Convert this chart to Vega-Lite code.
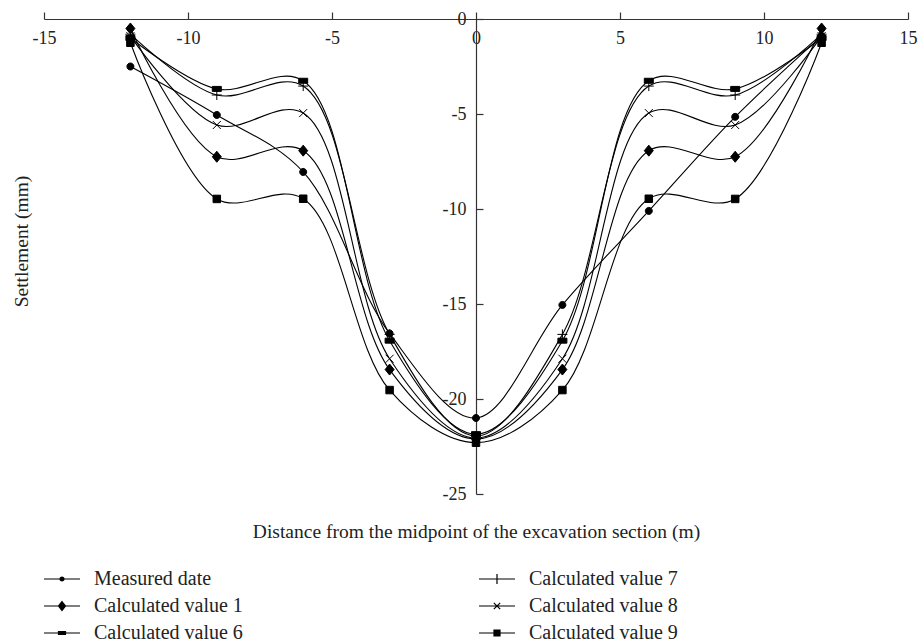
{
  "$schema": "https://vega.github.io/schema/vega-lite/v6.json",
  "width": 864,
  "height": 475,
  "autosize": {"type": "none"},
  "padding": {"left": 44, "top": 19, "right": 10, "bottom": 149},
  "background": "white",
  "config": {
    "view": {"stroke": null},
    "font": "Liberation Serif",
    "axis": {
      "grid": false,
      "domainColor": "#333333",
      "tickColor": "#333333",
      "domainWidth": 1.2,
      "tickWidth": 1.2,
      "labelColor": "#222222",
      "titleColor": "#222222",
      "labelFont": "Liberation Serif",
      "titleFont": "Liberation Serif",
      "labelFontSize": 18,
      "titleFontSize": 19.5,
      "titleFontWeight": "normal",
      "labelFlush": false,
      "labelOverlap": false
    }
  },
  "data": {
    "values": [
      {"series": "Measured date", "x": -12, "y": -2.5},
      {"series": "Measured date", "x": -9, "y": -5.05},
      {"series": "Measured date", "x": -6, "y": -8.05},
      {"series": "Measured date", "x": -3, "y": -16.55},
      {"series": "Measured date", "x": 0, "y": -21.0},
      {"series": "Measured date", "x": 3, "y": -15.05},
      {"series": "Measured date", "x": 6, "y": -10.1},
      {"series": "Measured date", "x": 9, "y": -5.15},
      {"series": "Measured date", "x": 12, "y": -0.9},
      {"series": "Calculated value 1", "x": -12, "y": -0.5},
      {"series": "Calculated value 1", "x": -9, "y": -7.25},
      {"series": "Calculated value 1", "x": -6, "y": -6.93},
      {"series": "Calculated value 1", "x": -3, "y": -18.45},
      {"series": "Calculated value 1", "x": 0, "y": -22.1},
      {"series": "Calculated value 1", "x": 3, "y": -18.45},
      {"series": "Calculated value 1", "x": 6, "y": -6.93},
      {"series": "Calculated value 1", "x": 9, "y": -7.25},
      {"series": "Calculated value 1", "x": 12, "y": -0.5},
      {"series": "Calculated value 6", "x": -12, "y": -1.0},
      {"series": "Calculated value 6", "x": -9, "y": -3.68},
      {"series": "Calculated value 6", "x": -6, "y": -3.25},
      {"series": "Calculated value 6", "x": -3, "y": -16.93},
      {"series": "Calculated value 6", "x": 0, "y": -21.85},
      {"series": "Calculated value 6", "x": 3, "y": -16.93},
      {"series": "Calculated value 6", "x": 6, "y": -3.25},
      {"series": "Calculated value 6", "x": 9, "y": -3.68},
      {"series": "Calculated value 6", "x": 12, "y": -1.0},
      {"series": "Calculated value 7", "x": -12, "y": -0.8},
      {"series": "Calculated value 7", "x": -9, "y": -4.0},
      {"series": "Calculated value 7", "x": -6, "y": -3.53},
      {"series": "Calculated value 7", "x": -3, "y": -16.6},
      {"series": "Calculated value 7", "x": 0, "y": -21.95},
      {"series": "Calculated value 7", "x": 3, "y": -16.6},
      {"series": "Calculated value 7", "x": 6, "y": -3.53},
      {"series": "Calculated value 7", "x": 9, "y": -4.0},
      {"series": "Calculated value 7", "x": 12, "y": -0.8},
      {"series": "Calculated value 8", "x": -12, "y": -0.9},
      {"series": "Calculated value 8", "x": -9, "y": -5.58},
      {"series": "Calculated value 8", "x": -6, "y": -4.95},
      {"series": "Calculated value 8", "x": -3, "y": -17.88},
      {"series": "Calculated value 8", "x": 0, "y": -22.05},
      {"series": "Calculated value 8", "x": 3, "y": -17.88},
      {"series": "Calculated value 8", "x": 6, "y": -4.95},
      {"series": "Calculated value 8", "x": 9, "y": -5.58},
      {"series": "Calculated value 8", "x": 12, "y": -0.9},
      {"series": "Calculated value 9", "x": -12, "y": -1.25},
      {"series": "Calculated value 9", "x": -9, "y": -9.47},
      {"series": "Calculated value 9", "x": -6, "y": -9.46},
      {"series": "Calculated value 9", "x": -3, "y": -19.53},
      {"series": "Calculated value 9", "x": 0, "y": -22.3},
      {"series": "Calculated value 9", "x": 3, "y": -19.53},
      {"series": "Calculated value 9", "x": 6, "y": -9.46},
      {"series": "Calculated value 9", "x": 9, "y": -9.47},
      {"series": "Calculated value 9", "x": 12, "y": -1.25}
    ]
  },
  "encoding": {
    "x": {
      "field": "x",
      "type": "quantitative",
      "scale": {"domain": [-15, 15], "nice": false, "zero": false},
      "axis": {
        "orient": "top",
        "values": [-15, -10, -5, 0, 5, 10, 15],
        "tickSize": 7,
        "labelBaseline": "top",
        "labelPadding": -17,
        "labelExpr": "'' + datum.value",
        "title": "Distance from the midpoint of the excavation section (m)",
        "titleX": 432,
        "titleY": 518,
        "titleAlign": "center",
        "titleBaseline": "alphabetic"
      }
    },
    "y": {
      "field": "y",
      "type": "quantitative",
      "scale": {"domain": [-25, 0], "nice": false, "zero": false},
      "axis": {
        "orient": "left",
        "offset": -432,
        "values": [0, -5, -10, -15, -20, -25],
        "tickSize": -7,
        "labelPadding": 17,
        "labelAlign": "right",
        "labelBaseline": "middle",
        "labelExpr": "'' + datum.value",
        "title": "Settlement (mm)",
        "titleX": -449,
        "titleY": 222,
        "titleAngle": -90,
        "titleAlign": "center",
        "titleBaseline": "alphabetic"
      }
    }
  },
  "resolve": {"scale": {"shape": "independent"}},
  "layer": [
    {
      "mark": {"type": "line", "interpolate": "catmull-rom", "color": "black", "strokeWidth": 1.1},
      "encoding": {"detail": {"field": "series", "type": "nominal"}}
    },
    {
      "mark": {"type": "point", "filled": true, "color": "black", "stroke": "black", "strokeWidth": 1, "size": 100, "opacity": 1},
      "encoding": {
        "shape": {
          "field": "series",
          "type": "nominal",
          "scale": {
            "domain": ["Measured date", "Calculated value 1", "Calculated value 6", "Calculated value 7", "Calculated value 8", "Calculated value 9"],
            "range": [
              "M0.7,0A0.7,0.7,0,1,1,-0.7,0A0.7,0.7,0,1,1,0.7,0Z",
              "M0,-1.1L0.9,0L0,1.1L-0.9,0Z",
              "M-0.9,-0.5H0.9V0.5H-0.9Z",
              "M-1,0H1M0,-1V1",
              "M-0.8,-0.8L0.8,0.8M-0.8,0.8L0.8,-0.8",
              "M-0.75,-0.75H0.75V0.75H-0.75Z"
            ]
          },
          "legend": null
        }
      }
    },
    {
      "mark": {"type": "point", "filled": false, "color": "black", "strokeWidth": 1.2, "size": 400, "opacity": 0},
      "encoding": {
        "shape": {
          "field": "series",
          "type": "nominal",
          "scale": {
            "domain": ["Measured date", "Calculated value 1", "Calculated value 6", "Calculated value 7", "Calculated value 8", "Calculated value 9"],
            "range": [
              "M-1.8,0H1.8M0.2,0A0.2,0.2,0,1,1,-0.2,0A0.2,0.2,0,1,1,0.2,0M0.1,0A0.1,0.1,0,1,1,-0.1,0A0.1,0.1,0,1,1,0.1,0",
              "M-1.8,0H1.8M0,-0.45L0.35,0L0,0.45L-0.35,0ZM0,-0.3L0.23,0L0,0.3L-0.23,0ZM0,-0.15L0.12,0L0,0.15L-0.12,0Z",
              "M-1.8,0H1.8M-0.35,-0.15H0.35V0.15H-0.35ZM-0.35,-0.08H0.35M-0.35,0.08H0.35",
              "M-1.8,0H1.8M0,-0.5V0.5",
              "M-1.8,0H1.8M-0.32,-0.32L0.32,0.32M-0.32,0.32L0.32,-0.32",
              "M-1.8,0H1.8M-0.3,-0.3H0.3V0.3H-0.3ZM-0.3,-0.2H0.3M-0.3,-0.1H0.3M-0.3,0.1H0.3M-0.3,0.2H0.3"
            ]
          },
          "legend": {
            "orient": "none",
            "legendX": 7,
            "legendY": 549,
            "columns": 2,
            "title": null,
            "padding": 0,
            "symbolSize": 400,
            "symbolOpacity": 1,
            "symbolStrokeColor": "black",
            "symbolStrokeWidth": 1.2,
            "labelFont": "Liberation Serif",
            "labelFontSize": 20,
            "labelColor": "#222222",
            "labelOffset": 21,
            "labelLimit": 400,
            "rowPadding": 6,
            "columnPadding": 233,
            "gridAlign": "all"
          }
        }
      }
    }
  ]
}
